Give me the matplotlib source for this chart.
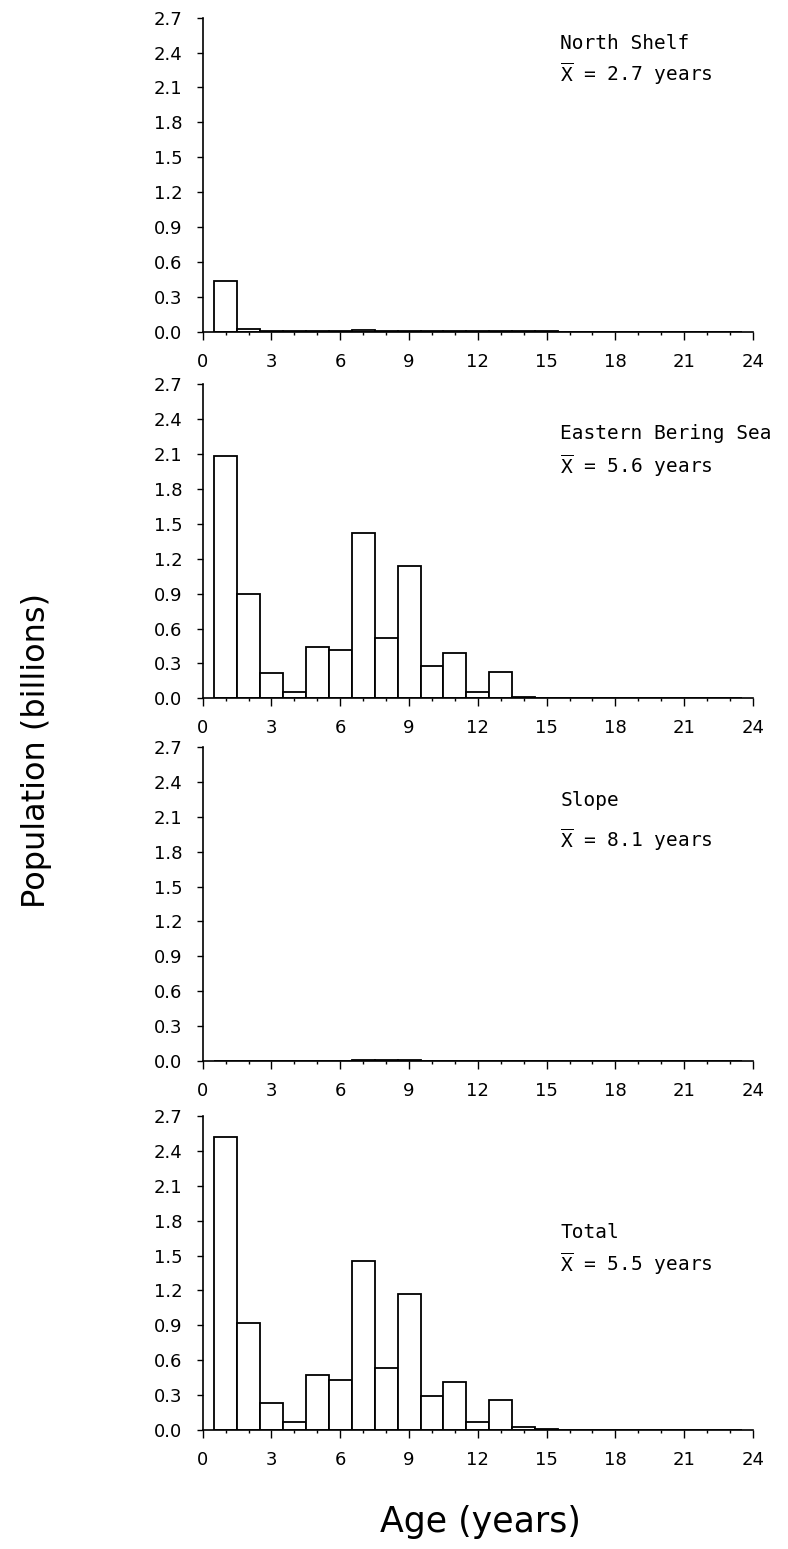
import matplotlib
matplotlib.use("Agg")
import matplotlib.pyplot as plt
import numpy as np

plt.rcParams['font.family'] = ['DejaVu Sans']
plt.rcParams['mathtext.fontset'] = 'custom'
plt.rcParams['mathtext.rm'] = 'DejaVu Sans Mono'
plt.rcParams['mathtext.it'] = 'DejaVu Sans Mono'
plt.rcParams['mathtext.bf'] = 'DejaVu Sans Mono'

ages = list(range(1, 24))

north_shelf = [0.433, 0.023, 0.005, 0.003, 0.006, 0.004, 0.012, 0.005, 0.007, 0.003,
               0.008, 0.004, 0.004, 0.002, 0.002, 0.001, 0.001, 0.001, 0.001, 0.001,
               0.001, 0.001, 0.001]
eastern_bering = [2.08, 0.895, 0.217, 0.055, 0.445, 0.416, 1.42, 0.52, 1.14, 0.274,
                  0.39, 0.055, 0.225, 0.015, 0.004, 0.003, 0.002, 0.002, 0.003, 0.002,
                  0.002, 0.001, 0.001]
slope = [0.0, 0.0, 0.0, 0.001, 0.002, 0.003, 0.012, 0.006, 0.009, 0.004,
         0.003, 0.002, 0.002, 0.001, 0.001, 0.001, 0.001, 0.001, 0.001, 0.001,
         0.001, 0.001, 0.001]
total = [2.52, 0.92, 0.229, 0.069, 0.469, 0.431, 1.449, 0.534, 1.171, 0.294,
         0.414, 0.071, 0.255, 0.026, 0.005, 0.004, 0.002, 0.002, 0.003, 0.002,
         0.002, 0.001, 0.001]

panel_names = ["North Shelf", "Eastern Bering Sea", "Slope", "Total"]
panel_means = [2.7, 5.6, 8.1, 5.5]
panel_series = [north_shelf, eastern_bering, slope, total]
label_y = [(2.48, 2.22), (2.28, 2.00), (2.24, 1.90), (1.70, 1.43)]

y_ticks = [round(0.3 * i, 1) for i in range(10)]
x_ticks = list(range(0, 25, 3))

W, H = 788, 1549
fig = plt.figure(figsize=(W / 100, H / 100), dpi=100)

left_px, right_px = 202.7, 753.0
bottoms_px = [331.7, 698.3, 1061.0, 1430.0]
height_px = 314.0

for i, (name, mean, vals) in enumerate(zip(panel_names, panel_means, panel_series)):
    ax = fig.add_axes([left_px / W, 1 - bottoms_px[i] / H,
                       (right_px - left_px) / W, height_px / H])
    ax.bar(ages, vals, width=1.0, facecolor='white', edgecolor='black', linewidth=1.3)
    ax.set_xlim(0, 24)
    ax.set_ylim(0, 2.7)
    ax.set_xticks(x_ticks)
    ax.set_xticks(range(0, 25), minor=True)
    ax.set_yticks(y_ticks)
    ax.set_yticklabels([f"{v:.1f}" for v in y_ticks])
    for s in ['top', 'right']:
        ax.spines[s].set_visible(False)
    for s in ['left', 'bottom']:
        ax.spines[s].set_linewidth(1.2)
    ax.tick_params(axis='x', which='major', direction='out', length=6, width=1.0,
                   pad=9, labelsize=13)
    ax.tick_params(axis='x', which='minor', direction='out', length=2.5, width=1.0)
    ax.tick_params(axis='y', which='major', direction='out', length=4.5, width=1.0,
                   pad=10, labelsize=13)
    ax.text(15.6, label_y[i][0], name, fontsize=14, family='DejaVu Sans Mono',
            ha='left', va='center')
    ax.text(15.6, label_y[i][1], r"$\overline{\mathrm{X}}$" + f" = {mean} years",
            fontsize=14, family='DejaVu Sans Mono', ha='left', va='center')

fig.text(37 / W, 1 - 750 / H, "Population (billions)", rotation=90,
         ha='center', va='center', fontsize=23)
fig.text(480 / W, 1 - 1522 / H, "Age (years)", ha='center', va='center', fontsize=25)

fig.savefig("out.png", dpi=100)
